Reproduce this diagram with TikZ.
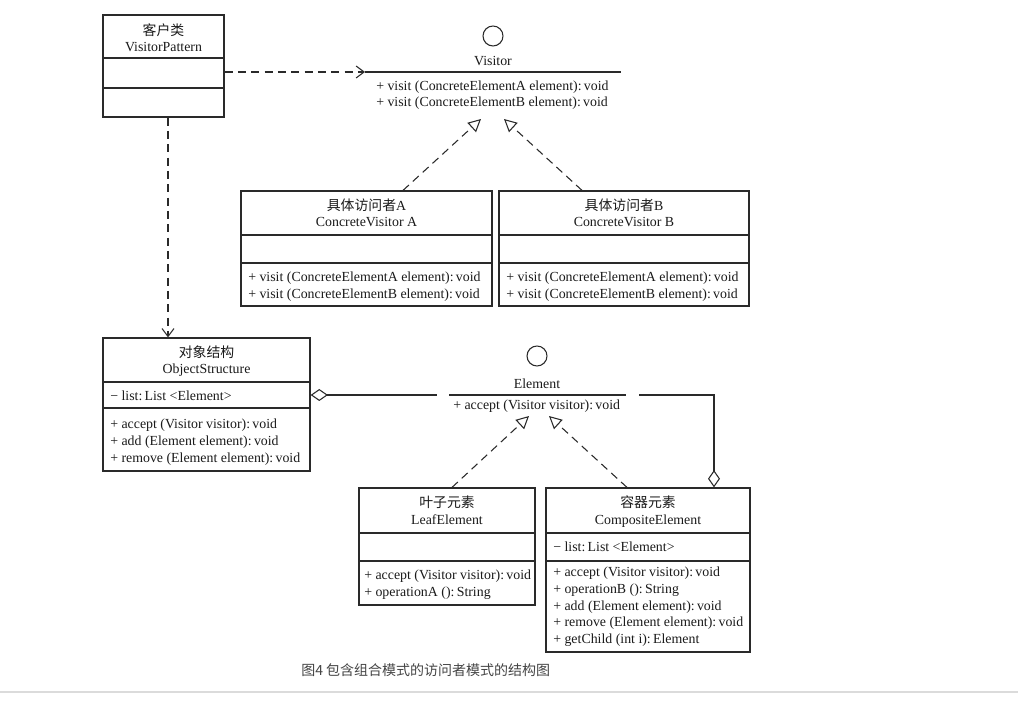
\documentclass[tikz,border=0pt]{standalone}
\usepackage{fontspec}
\setmainfont{Liberation Serif}
\newfontfamily\cjk{Noto Sans CJK SC}
\usetikzlibrary{arrows.meta,fit}
\definecolor{lc}{HTML}{2A2A2A}
\definecolor{tc}{HTML}{1A1A1A}
\definecolor{capc}{HTML}{444444}
\begin{document}
\begin{tikzpicture}[x=0.75pt,y=-0.75pt,
  font=\fontsize{10.4}{12.5}\selectfont, text=tc,
  box/.style={draw=lc, line width=0.9pt, inner sep=0pt},
  ln/.style={draw=lc, line width=0.8pt},
  dep/.style={draw=lc, line width=0.8pt, dash pattern=on 6pt off 4pt, -{Straight Barb[length=6pt,width=9pt]}},
  real/.style={draw=lc, line width=0.8pt, dash pattern=on 6pt off 4pt, -{Triangle[open,length=9.5pt,width=9.5pt]}},
  agg/.style={draw=lc, line width=0.8pt},
  ttl/.style={anchor=base, inner sep=0pt},
  mem/.style={anchor=base west, inner sep=0pt},
  lolly/.style={draw=lc, circle, line width=0.8pt, minimum size=15pt, inner sep=0pt},
]
\useasboundingbox (0,0) rectangle (1018,702);

% ---------- VisitorPattern ----------
\node[box, fit={(103,15) (224,117)}] (vp) {};
\draw[ln] (vp.west |- 0,58) -- (vp.east |- 0,58);
\draw[ln] (vp.west |- 0,88) -- (vp.east |- 0,88);
\node[ttl] (vpt1) at (163.5,35.5) {\cjk 客户类};
\node[ttl] (vpt2) at (163.5,51.5) {VisitorPattern};

% ---------- Visitor interface ----------
\node[lolly] (vcirc) at (493,36) {};
\node[ttl] (vname) at (493,65.5) {Visitor};
\coordinate (vl) at (365,72);
\coordinate (vr) at (621,72);
\draw[ln] (vl) -- (vr);
\node[mem] (vm1) at (376,90.5) {+ visit (ConcreteElementA element):\,void};
\node[mem] (vm2) at (376,106.5) {+ visit (ConcreteElementB element):\,void};
\coordinate (vtipA) at (481,119);
\coordinate (vtipB) at (504,119);

% ---------- ConcreteVisitor A ----------
\node[box, fit={(241,191) (492,306)}] (cva) {};
\draw[ln] (cva.west |- 0,235) -- (cva.east |- 0,235);
\draw[ln] (cva.west |- 0,263) -- (cva.east |- 0,263);
\node[ttl] (cvat1) at (366.5,210.5) {{\cjk 具体访问者}A};
\node[ttl] (cvat2) at (366.5,226.5) {ConcreteVisitor A};
\node[mem] (cvam1) at (248,281.5) {+ visit (ConcreteElementA element):\,void};
\node[mem] (cvam2) at (248,298.5) {+ visit (ConcreteElementB element):\,void};

% ---------- ConcreteVisitor B ----------
\node[box, fit={(499,191) (749,306)}] (cvb) {};
\draw[ln] (cvb.west |- 0,235) -- (cvb.east |- 0,235);
\draw[ln] (cvb.west |- 0,263) -- (cvb.east |- 0,263);
\node[ttl] (cvbt1) at (624,210.5) {{\cjk 具体访问者}B};
\node[ttl] (cvbt2) at (624,226.5) {ConcreteVisitor B};
\node[mem] (cvbm1) at (506,281.5) {+ visit (ConcreteElementA element):\,void};
\node[mem] (cvbm2) at (506,298.5) {+ visit (ConcreteElementB element):\,void};

% ---------- ObjectStructure ----------
\node[box, fit={(103,338) (310,471)}] (os) {};
\draw[ln] (os.west |- 0,382) -- (os.east |- 0,382);
\draw[ln] (os.west |- 0,408) -- (os.east |- 0,408);
\node[ttl] (ost1) at (206.5,357.5) {\cjk 对象结构};
\node[ttl] (ost2) at (206.5,373.5) {ObjectStructure};
\node[mem] (osa) at (110,400.5) {− list:\,List <Element>};
\node[mem] (osm1) at (110,428.5) {+ accept (Visitor visitor):\,void};
\node[mem] (osm2) at (110,445.5) {+ add (Element element):\,void};
\node[mem] (osm3) at (110,462.5) {+ remove (Element element):\,void};

% ---------- Element interface ----------
\node[lolly] (ecirc) at (537,356) {};
\node[ttl] (ename) at (537,388.5) {Element};
\coordinate (el) at (449,395);
\coordinate (er) at (626,395);
\draw[ln] (el) -- (er);
\node[mem] (em1) at (453,409.5) {+ accept (Visitor visitor):\,void};
\coordinate (etipA) at (529,416);
\coordinate (etipB) at (549,416);
\coordinate (aggL) at (437,395);
\coordinate (aggR) at (639,395);
\coordinate (aggC) at (714,395);

% ---------- LeafElement ----------
\node[box, fit={(359,488) (535,605)}] (leaf) {};
\draw[ln] (leaf.west |- 0,533) -- (leaf.east |- 0,533);
\draw[ln] (leaf.west |- 0,561) -- (leaf.east |- 0,561);
\node[ttl] (lft1) at (447,507.5) {\cjk 叶子元素};
\node[ttl] (lft2) at (447,524.5) {LeafElement};
\node[mem] (lfm1) at (364,579.5) {+ accept (Visitor visitor):\,void};
\node[mem] (lfm2) at (364,596.5) {+ operationA ():\,String};

% ---------- CompositeElement ----------
\node[box, fit={(546,488) (750,652)}] (comp) {};
\draw[ln] (comp.west |- 0,533) -- (comp.east |- 0,533);
\draw[ln] (comp.west |- 0,561) -- (comp.east |- 0,561);
\node[ttl] (cpt1) at (648,507.5) {\cjk 容器元素};
\node[ttl] (cpt2) at (648,524.5) {CompositeElement};
\node[mem] (cpa) at (553,551.5) {− list:\,List <Element>};
\node[mem] (cpm1) at (553,576.5) {+ accept (Visitor visitor):\,void};
\node[mem] (cpm2) at (553,593.5) {+ operationB ():\,String};
\node[mem] (cpm3) at (553,610.5) {+ add (Element element):\,void};
\node[mem] (cpm4) at (553,626.5) {+ remove (Element element):\,void};
\node[mem] (cpm5) at (553,643.5) {+ getChild (int i):\,Element};

% ---------- connectors ----------
\draw[dep] (vp.east |- vl) -- (vl);
\draw[dep] (vp.south -| 168,0) -- (os.north -| 168,0);
\draw[real] (cva.north -| 403,0) -- (vtipA);
\draw[real] (cvb.north -| 582,0) -- (vtipB);
\draw[real] (leaf.north -| 452,0) -- (etipA);
\draw[real] (comp.north -| 627,0) -- (etipB);
\draw[agg, {Diamond[open,length=13pt,width=9pt]}-] (os.east |- aggL) -- (aggL);
\draw[agg, -{Diamond[open,length=13pt,width=9pt]}] (aggR) -- (aggC) -- (comp.north -| aggC);

% ---------- caption ----------
\node[anchor=base west, inner sep=0pt, text=capc, font=\cjk\fontsize{10.5}{12.5}\selectfont] (cap) at (301,675.5) {图4 包含组合模式的访问者模式的结构图};
\draw[draw=black!14, line width=1.2pt] (0,692) -- (1018,692);
\end{tikzpicture}
\end{document}
